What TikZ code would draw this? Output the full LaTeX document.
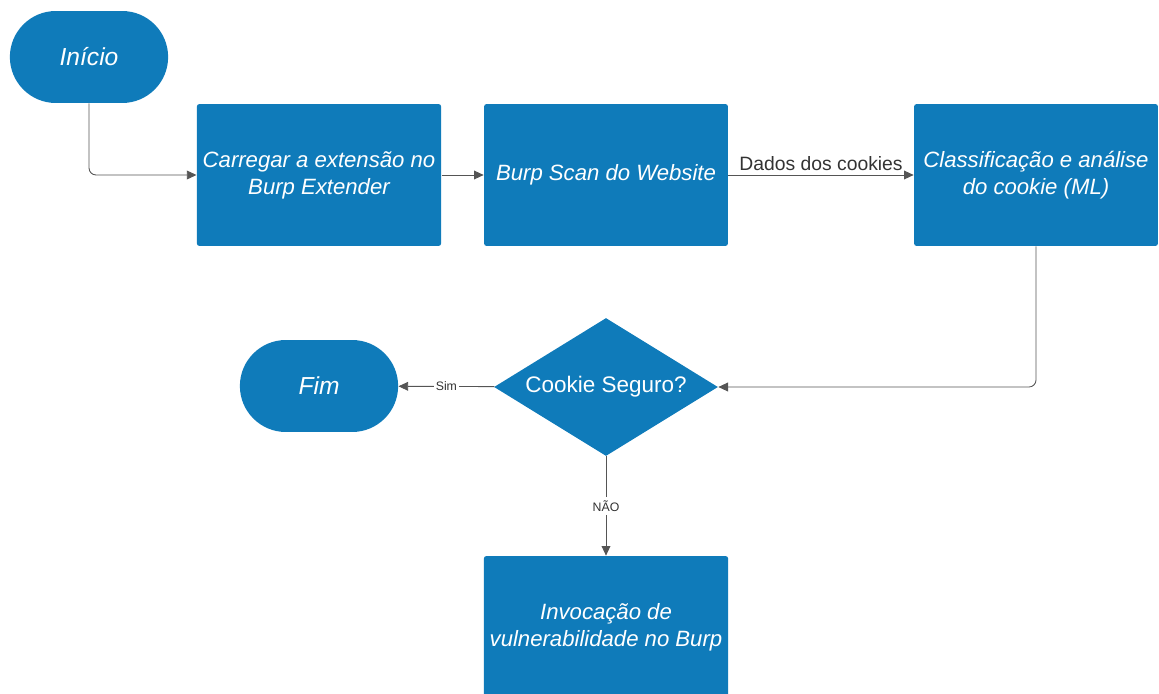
\documentclass[tikz,border=0pt]{standalone}
\usepackage{fontspec}
\setmainfont{Liberation Sans}
\usepackage{tikz}
\usetikzlibrary{shapes.misc}
\usetikzlibrary{shapes.geometric}
\usetikzlibrary{arrows.meta}
\definecolor{boxblue}{HTML}{0F7BBA}
\definecolor{linegray}{HTML}{555555}

\begin{document}
\begin{tikzpicture}[x=0.02cm,y=-0.02cm]
		\tikzstyle{term} = [rounded rectangle, fill=boxblue, text=white, minimum width=3.4cm, minimum height=1.84cm, font=\fontsize{14}{16}\selectfont\itshape]
		\tikzstyle{block} = [rectangle, rounded corners=1.5pt, fill=boxblue, text=white, minimum width=4.88cm, minimum height=2.84cm, align=center, font=\fontsize{12.6}{15.5}\selectfont\itshape]
		\tikzstyle{decision} = [diamond, fill=boxblue, text=white, shape aspect=1.62, inner sep=0pt, minimum width=4.48cm, minimum height=2.76cm, font=\fontsize{12.8}{14}\selectfont]
		\tikzstyle{flow} = [-{Triangle[length=5.5pt,width=5pt]}, linegray, line width=0.5pt]
		\useasboundingbox (0,0) rectangle (1159,693);
		\node [term] (start) at (89,57) {Início};
		\node [block] (load) at (319,175) {Carregar a extensão no\\Burp Extender};
		\node [block] (scan) at (606,175) {Burp Scan do Website};
		\node [block] (ml) at (1036,175) {Classificação e análise\\do cookie (ML)};
		\node [decision] (safe) at (606,387) {Cookie Seguro?};
		\node [term] (end) at (319,386) {Fim};
		\node [block] (vuln) at (606,627) {Invocação de\\vulnerabilidade no Burp};

		\draw[flow, rounded corners=4pt] (start.south) |- (load.west);
		\draw[flow] (load) -- (scan);
		\draw[flow] (scan) -- node[above, text=black!80, font=\fontsize{11}{13}\selectfont, inner sep=2pt] {Dados dos cookies} (ml);
		\draw[flow, rounded corners=4pt] (ml.south) |- (safe.east);
		\draw[flow] (safe) -- node[fill=white, text=black!80, font=\fontsize{7}{8}\selectfont, inner sep=1pt] {Sim} (end);
		\draw[flow] (safe) -- node[fill=white, text=black!80, font=\fontsize{7}{8}\selectfont, inner sep=2pt] {NÃO} (vuln);
	\end{tikzpicture}
\end{document}
